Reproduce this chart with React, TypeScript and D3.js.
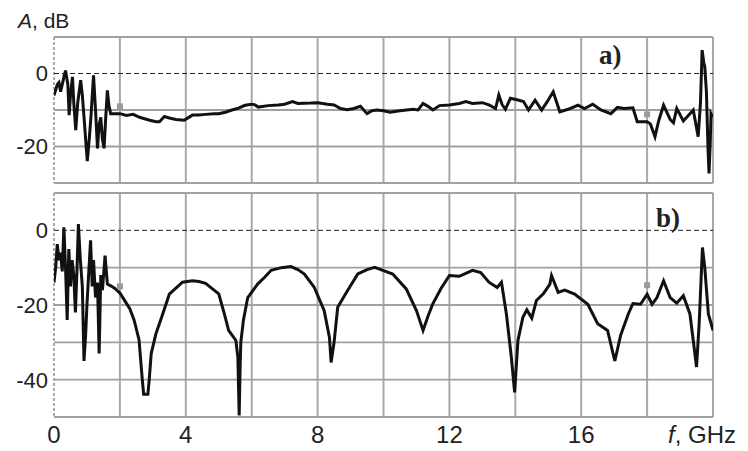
import React from "react";
import * as d3 from "d3";

const topF = [0,0.1,0.15,0.2,0.3,0.35,0.42,0.46,0.5,0.56,0.6,0.66,0.72,0.81,0.86,0.91,0.96,1.01,1.07,1.12,1.2,1.26,1.32,1.37,1.42,1.47,1.52,1.57,1.62,1.67,1.72,1.8,2.0,2.2,2.4,2.6,2.9,3.1,3.2,3.35,3.5,3.7,3.95,4.2,4.4,4.6,4.86,5.0,5.2,5.4,5.6,5.8,6.0,6.1,6.2,6.5,6.8,7.0,7.24,7.4,7.8,8.0,8.3,8.5,8.7,8.9,9.1,9.3,9.5,9.65,9.8,10.0,10.2,10.5,10.9,11.05,11.2,11.35,11.5,11.7,12.0,12.3,12.5,12.7,13.0,13.2,13.4,13.5,13.6,13.7,13.85,14.05,14.25,14.4,14.6,14.8,14.95,15.15,15.35,15.6,15.9,16.1,16.35,16.6,16.9,17.1,17.3,17.57,17.7,18.0,18.1,18.24,18.35,18.5,18.7,18.8,18.9,19.1,19.3,19.4,19.55,19.62,19.67,19.72,19.75,19.8,19.85,19.88,19.92,19.94,20.0];
const topA = [-6,-3,-2.5,-5,-1,0.8,-3,-11.4,-6,-0.9,-8,-15.5,-8,-1.8,-6,-11.8,-18,-24,-18,-12,-0.5,-10,-20.5,-14,-12,-18,-20.5,-12,-4.6,-9,-11,-11,-11,-11.5,-11.2,-12,-12.8,-13.2,-13.2,-11.8,-12.2,-12.6,-12.8,-11.4,-11.4,-11.2,-11,-11,-10.6,-10,-9.5,-8.7,-8.4,-8.6,-9.2,-8.8,-8.6,-8.4,-7.7,-8.2,-8.1,-8,-8.4,-8.6,-9.6,-9.9,-9.6,-9,-11,-10.2,-10,-10.2,-10.6,-10.2,-9.8,-10,-8.2,-9,-10,-8.8,-8.6,-8.2,-7.7,-8.2,-8,-8.6,-9.6,-5.9,-8.5,-9.8,-6.8,-7.2,-7.7,-10,-7.3,-10,-8,-5,-10.5,-9.8,-8.7,-9.6,-8.4,-10,-11,-9.3,-9.6,-9.4,-13.2,-13.2,-13.8,-17.3,-13,-8.7,-12.6,-13.5,-9.6,-13,-11,-10,-17.3,-8,6.4,3,1.9,-5,-21,-27.4,-18,-11,-12];

const botF = [0,0.05,0.1,0.15,0.2,0.25,0.3,0.35,0.4,0.45,0.5,0.55,0.6,0.65,0.7,0.74,0.8,0.86,0.91,0.96,1.0,1.05,1.11,1.16,1.2,1.26,1.32,1.37,1.42,1.47,1.55,1.62,1.75,1.87,2.0,2.18,2.3,2.43,2.58,2.68,2.72,2.85,2.89,2.95,3.09,3.3,3.5,3.7,3.9,4.2,4.4,4.6,4.8,5.0,5.17,5.3,5.52,5.58,5.62,5.65,5.67,5.75,5.88,6.18,6.4,6.59,6.9,7.19,7.4,7.6,7.9,8.2,8.36,8.41,8.5,8.61,8.91,9.22,9.5,9.73,9.88,10.28,10.69,11.0,11.2,11.35,11.5,11.75,12.0,12.3,12.7,12.95,13.2,13.45,13.58,13.73,13.88,13.98,14.08,14.23,14.35,14.5,14.64,14.85,15.05,15.1,15.3,15.5,15.8,16.2,16.5,16.8,17.02,17.2,17.43,17.57,17.8,18.0,18.15,18.3,18.5,18.7,18.9,19.1,19.3,19.45,19.5,19.58,19.68,19.75,19.86,20.0];
const botA = [-14,-10,-3.7,-8,-6,-11,0.8,-10,-24,-5,-15,-8,-12,-22,-10,1.7,-8,-15,-35,-28,-20,-12,-2.7,-15,-8,-18,-14,-33,-12,-16,-6.8,-14.4,-15,-15.7,-16.8,-19.3,-21,-24,-29.3,-40,-43.9,-43.9,-40,-33,-27.8,-22.4,-17.1,-15.5,-13.9,-13.5,-13.7,-14.2,-15.6,-17,-22.4,-26.8,-29.5,-34,-49.6,-36,-30,-24,-18,-14.4,-12.5,-10.7,-10,-9.7,-10.5,-11.7,-15.3,-21.5,-28.7,-35.4,-30,-20.6,-16.1,-11.7,-10.5,-9.9,-10.4,-11.7,-15.7,-21.5,-26.8,-23,-19.6,-15.5,-12.1,-12.3,-10.7,-11.3,-13.9,-15.3,-13.9,-22.4,-34,-43.4,-29.5,-23.3,-21.3,-23.5,-18.8,-17,-14.4,-12.1,-16.6,-16,-17.1,-19.8,-25,-26.8,-35,-28,-22.4,-19.6,-19.8,-17.1,-19.8,-18,-13.5,-18,-19.5,-17.5,-22.4,-33,-36.6,-25,-4.6,-10,-22.4,-26.8];

const topMarkF = [2, 18];
const topMarkA = [-9, -11.2];
const botMarkF = [2, 18];
const botMarkA = [-15, -14.7];

const xTicks = [0, 4, 8, 12, 16];
const xGrid = [0, 2, 4, 6, 8, 10, 12, 14, 16, 18, 20];
const topYTicks = [0, -20];
const topYGrid = [10, 0, -10, -20, -30];
const botYTicks = [0, -20, -40];
const botYGrid = [10, 0, -10, -20, -30, -40, -50];

const W = 748, H = 451;
const X0 = 54, X1 = 713;
const sans = "'Liberation Sans', Arial, sans-serif";

function Panel({ f, a, mf, ma, yDomain, top, bottom, ticks, grid, label, labelX, labelY }: any) {
  const x = d3.scaleLinear().domain([0, 20]).range([X0, X1]);
  const y = d3.scaleLinear().domain(yDomain).range([bottom, top]);
  const pts = f.map((v: number, i: number) => [v, a[i]] as [number, number]);
  const line = d3.line<[number, number]>().x(d => x(d[0])).y(d => y(d[1]));
  const clipId = "clip" + label.replace(")", "");
  return (
    <g>
      <defs>
        <clipPath id={clipId}>
          <rect x={X0} y={top} width={X1 - X0} height={bottom - top} />
        </clipPath>
      </defs>
      {xGrid.map(v => (
        <line key={"xg" + v} x1={x(v)} x2={x(v)} y1={top} y2={bottom}
          stroke={v === 0 ? "#555" : "#a8a8a8"} strokeWidth={v === 0 ? 1 : 2}
          strokeDasharray={v === 0 ? "3,2" : undefined} />
      ))}
      {grid.map((v: number) => (
        <line key={"yg" + v} x1={X0} x2={X1} y1={y(v)} y2={y(v)}
          stroke={v === 0 ? "#222" : "#a0a0a0"} strokeWidth={v === 0 ? 1 : 1.8}
          strokeDasharray={v === 0 ? "5,3" : undefined} />
      ))}
      {ticks.map((v: number) => (
        <text key={"yt" + v} x={48} y={y(v)} dy="0.36em" textAnchor="end"
          fontFamily={sans} fontSize={22} fill="#222">{v === 0 ? "0" : "-" + Math.abs(v)}</text>
      ))}
      <g clipPath={`url(#${clipId})`}>
        <path d={line(pts) || ""} fill="none" stroke="#111" strokeWidth={3} strokeLinejoin="miter" />
      </g>
      {mf.map((v: number, i: number) => (
        <rect key={"m" + i} x={x(v) - 3} y={y(ma[i]) - 3} width={6} height={6} fill="#999" />
      ))}
      <text x={labelX} y={labelY} fontFamily="'Liberation Serif', 'Times New Roman', serif"
        fontWeight="bold" fontSize={27} fill="#222">{label}</text>
    </g>
  );
}

export default function App() {
  const x = d3.scaleLinear().domain([0, 20]).range([X0, X1]);
  return (
    <svg width={W} height={H} style={{ position: "absolute", left: 0, top: 0, background: "#fff" }}>
      <text x={18} y={28} fontFamily={sans} fontSize={21} fill="#222">
        <tspan fontStyle="italic">A</tspan>, dB
      </text>
      <Panel f={topF} a={topA} mf={topMarkF} ma={topMarkA} yDomain={[-30, 10]} top={37} bottom={183}
        ticks={topYTicks} grid={topYGrid} label="a)" labelX={599} labelY={64} />
      <Panel f={botF} a={botA} mf={botMarkF} ma={botMarkA} yDomain={[-50, 10]} top={193} bottom={417}
        ticks={botYTicks} grid={botYGrid} label="b)" labelX={656} labelY={227} />
      {xTicks.map(v => (
        <text key={"xt" + v} x={x(v)} y={443} textAnchor="middle" fontFamily={sans} fontSize={24} fill="#222">{v}</text>
      ))}
      <text x={668} y={443} fontFamily={sans} fontSize={24} fill="#222">
        <tspan fontStyle="italic">f</tspan>, GHz
      </text>
    </svg>
  );
}
